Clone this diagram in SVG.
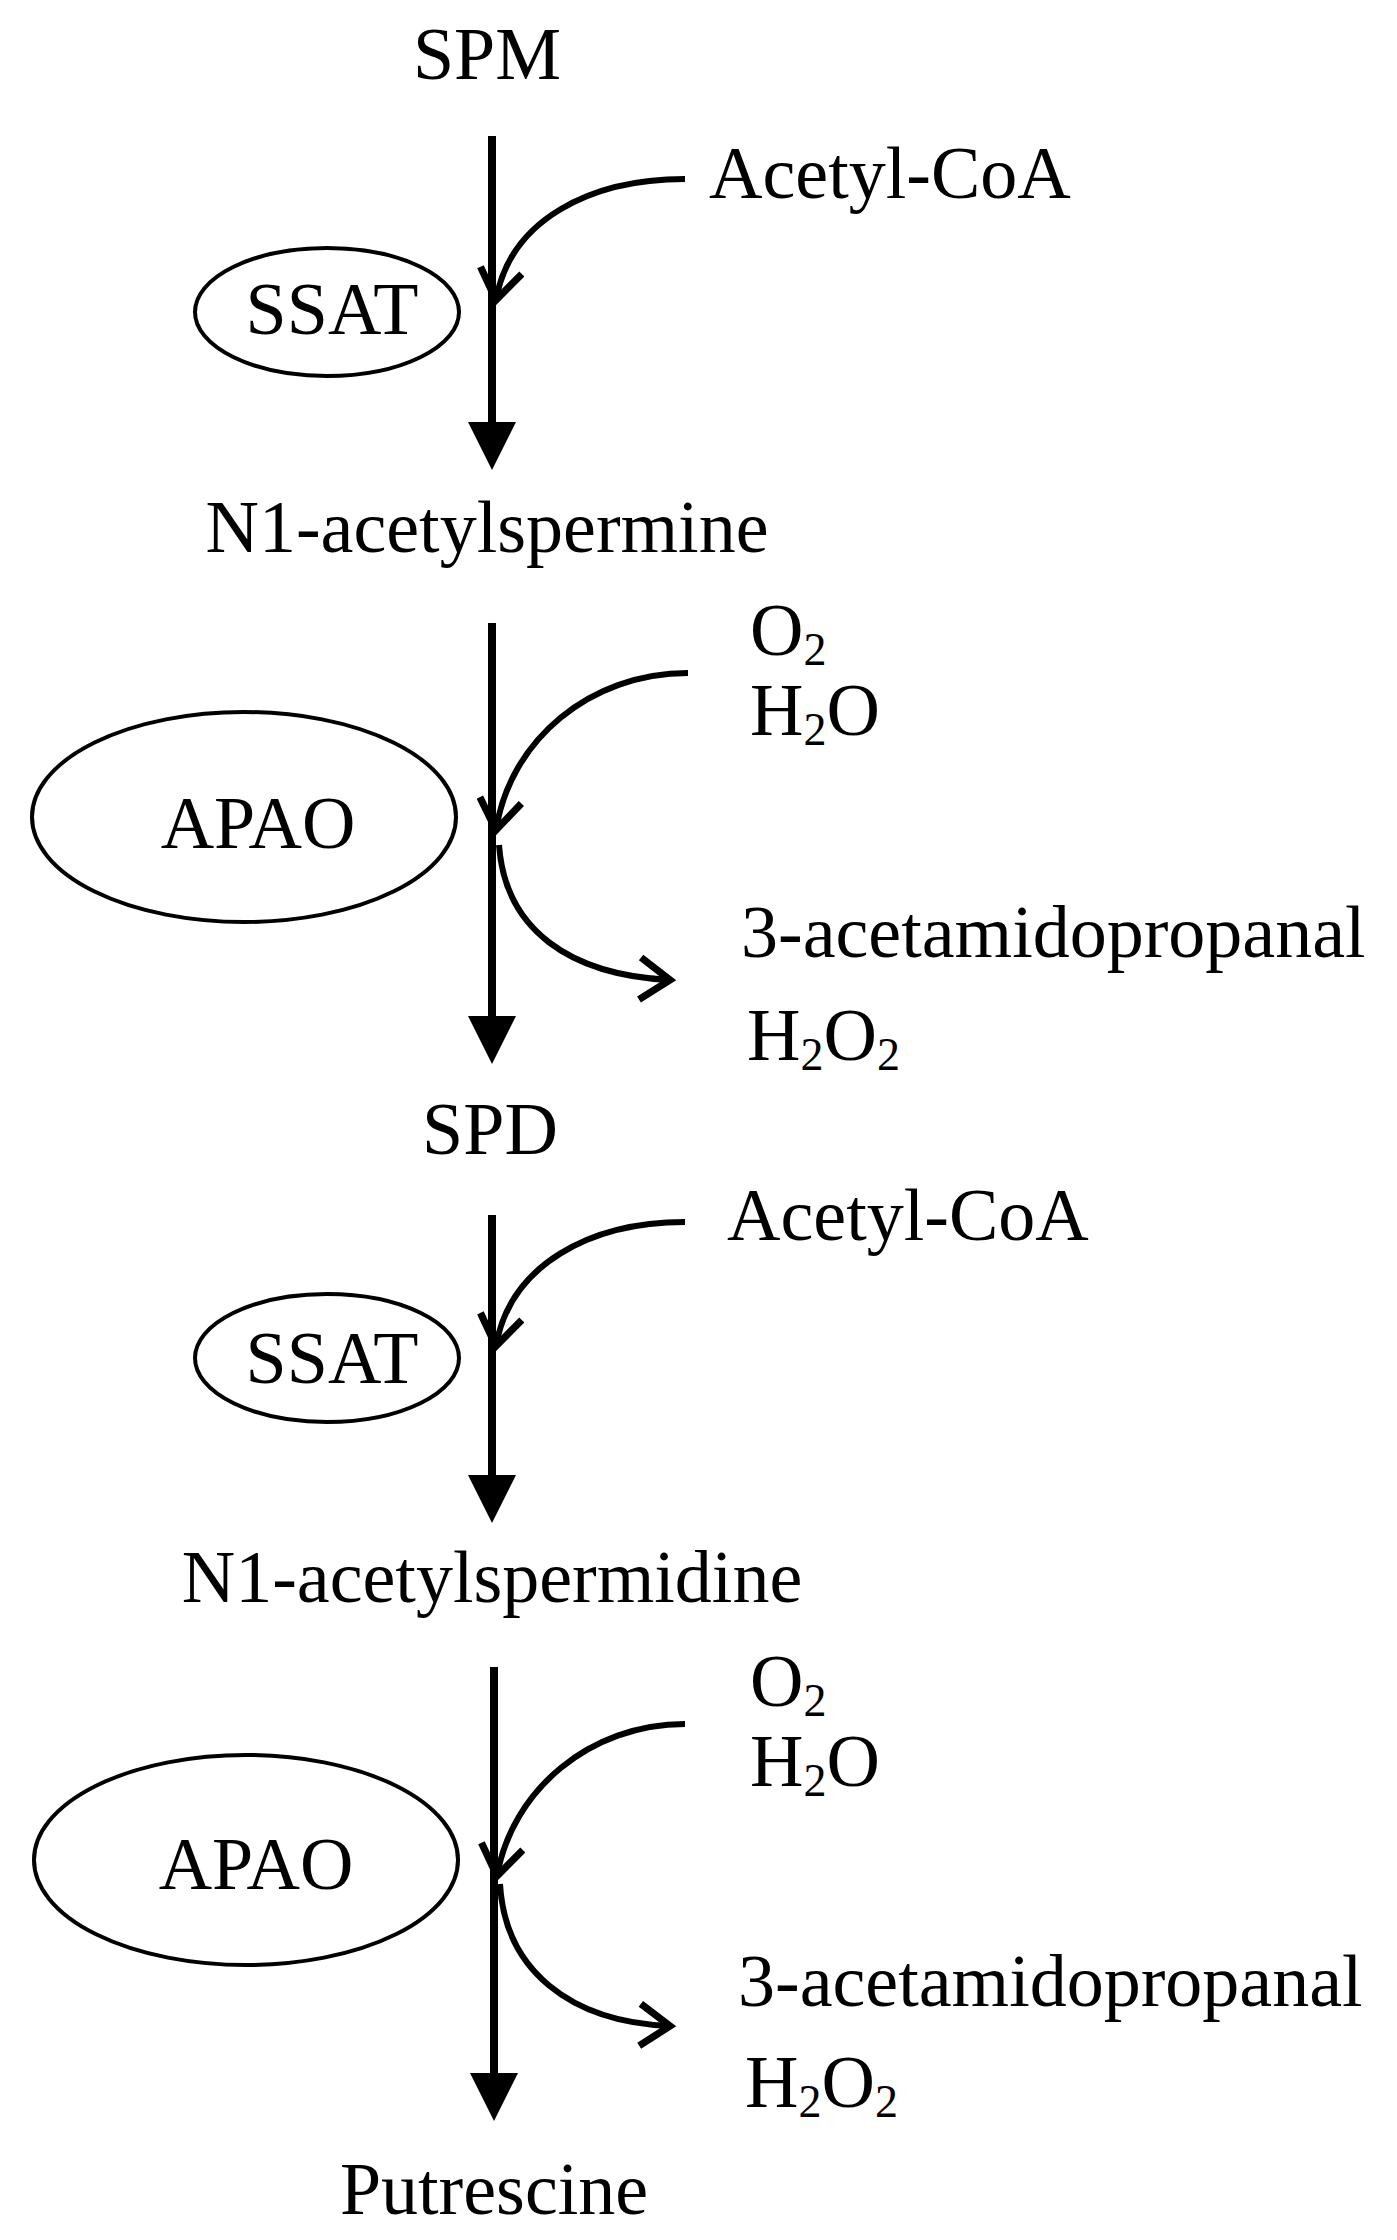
<svg xmlns="http://www.w3.org/2000/svg" width="1397" height="2240" viewBox="0 0 1397 2240">
<style>
text{font-family:"Liberation Serif","Times New Roman",serif;font-size:74px;fill:#000}
.c{text-anchor:middle}
.sub{font-size:46px}
.main{stroke:#000;stroke-width:8;fill:none}
.cur{stroke:#000;stroke-width:6;fill:none}
.ell{stroke:#000;stroke-width:4;fill:#fff}
</style>
<defs>
<marker id="tri" markerWidth="6" markerHeight="6" refX="5" refY="3" orient="auto" markerUnits="strokeWidth"><path d="M0,0 L6,3 L0,6 z" fill="#000"/></marker>
<marker id="vee" markerWidth="8" markerHeight="8" refX="6" refY="4" orient="auto" markerUnits="strokeWidth"><path d="M1,0.5 L6,4 L1,7.5" fill="none" stroke="#000" stroke-width="1.2"/></marker>
</defs>
<g id="nodes">
<g id="spm"><text class="c" x="487" y="79">SPM</text></g>
<g id="acoa1"><text x="709" y="198">Acetyl-CoA</text></g>
<g id="ssat1"><ellipse class="ell" cx="327" cy="312" rx="132" ry="64"/><text class="c" x="332" y="334">SSAT</text></g>
<g id="n1spm"><text class="c" x="487" y="552">N1-acetylspermine</text></g>
<g id="o2a"><text x="750" y="655">O<tspan class="sub" dy="10">2</tspan></text><text x="750" y="735">H<tspan class="sub" dy="10">2</tspan><tspan dy="-10">O</tspan></text></g>
<g id="apao1"><ellipse class="ell" cx="244" cy="817" rx="212" ry="105"/><text class="c" x="258" y="848">APAO</text></g>
<g id="prod1"><text x="741" y="957">3-acetamidopropanal</text><text x="747" y="1060">H<tspan class="sub" dy="10">2</tspan><tspan dy="-10">O</tspan><tspan class="sub" dy="10">2</tspan></text></g>
<g id="spd"><text class="c" x="490" y="1154">SPD</text></g>
<g id="acoa2"><text x="727" y="1240">Acetyl-CoA</text></g>
<g id="ssat2"><ellipse class="ell" cx="327" cy="1358" rx="132" ry="64"/><text class="c" x="332" y="1383">SSAT</text></g>
<g id="n1spd"><text class="c" x="492" y="1602">N1-acetylspermidine</text></g>
<g id="o2b"><text x="750" y="1706">O<tspan class="sub" dy="10">2</tspan></text><text x="750" y="1786">H<tspan class="sub" dy="10">2</tspan><tspan dy="-10">O</tspan></text></g>
<g id="apao2"><ellipse class="ell" cx="246" cy="1860" rx="212" ry="105"/><text class="c" x="256" y="1889">APAO</text></g>
<g id="prod2"><text x="738" y="2006">3-acetamidopropanal</text><text x="745" y="2107">H<tspan class="sub" dy="10">2</tspan><tspan dy="-10">O</tspan><tspan class="sub" dy="10">2</tspan></text></g>
<g id="put"><text class="c" x="494" y="2214">Putrescine</text></g>
</g>
<g id="connectors">
<line class="main" x1="492" y1="136" x2="492" y2="462" marker-end="url(#tri)"/>
<path class="cur" d="M685,179 C590,179 510,220 496,300" marker-end="url(#vee)"/>
<line class="main" x1="492" y1="623" x2="492" y2="1056" marker-end="url(#tri)"/>
<path class="cur" d="M688,673 C590,673 510,740 496,830" marker-end="url(#vee)"/>
<path class="cur" d="M499,845 C505,930 570,975 670,980" marker-end="url(#vee)"/>
<line class="main" x1="492" y1="1215" x2="492" y2="1515" marker-end="url(#tri)"/>
<path class="cur" d="M685,1222 C590,1222 510,1265 496,1346" marker-end="url(#vee)"/>
<line class="main" x1="494" y1="1667" x2="494" y2="2113" marker-end="url(#tri)"/>
<path class="cur" d="M685,1724 C590,1724 512,1790 497,1876" marker-end="url(#vee)"/>
<path class="cur" d="M500,1884 C505,1970 570,2022 670,2026" marker-end="url(#vee)"/>
</g>
</svg>
